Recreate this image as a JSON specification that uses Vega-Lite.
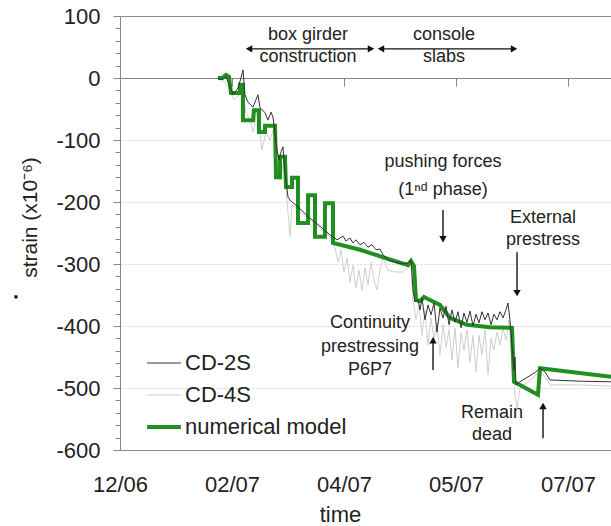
{
  "$schema": "https://vega.github.io/schema/vega-lite/v6.json",
  "width": 491,
  "height": 434,
  "autosize": "none",
  "padding": {"left": 120, "top": 16, "right": 0, "bottom": 76},
  "background": "white",
  "config": {
    "view": {"stroke": null},
    "font": "Liberation Sans",
    "text": {"font": "Liberation Sans"}
  },
  "datasets": {
    "series": [
      {"series": "numerical model", "t": 0.875, "strain": 0},
      {"series": "numerical model", "t": 0.911, "strain": 0},
      {"series": "numerical model", "t": 0.946, "strain": 5},
      {"series": "numerical model", "t": 0.973, "strain": 2},
      {"series": "numerical model", "t": 0.991, "strain": -24},
      {"series": "numerical model", "t": 1.071, "strain": -24},
      {"series": "numerical model", "t": 1.0711, "strain": -11},
      {"series": "numerical model", "t": 1.098, "strain": -11},
      {"series": "numerical model", "t": 1.0981, "strain": -68},
      {"series": "numerical model", "t": 1.188, "strain": -68},
      {"series": "numerical model", "t": 1.196, "strain": -52},
      {"series": "numerical model", "t": 1.241, "strain": -52},
      {"series": "numerical model", "t": 1.2411, "strain": -87},
      {"series": "numerical model", "t": 1.295, "strain": -87},
      {"series": "numerical model", "t": 1.2951, "strain": -77},
      {"series": "numerical model", "t": 1.384, "strain": -77},
      {"series": "numerical model", "t": 1.393, "strain": -160},
      {"series": "numerical model", "t": 1.429, "strain": -160},
      {"series": "numerical model", "t": 1.4291, "strain": -127},
      {"series": "numerical model", "t": 1.473, "strain": -127},
      {"series": "numerical model", "t": 1.482, "strain": -176},
      {"series": "numerical model", "t": 1.536, "strain": -176},
      {"series": "numerical model", "t": 1.5361, "strain": -161},
      {"series": "numerical model", "t": 1.589, "strain": -161},
      {"series": "numerical model", "t": 1.5891, "strain": -234},
      {"series": "numerical model", "t": 1.679, "strain": -234},
      {"series": "numerical model", "t": 1.6791, "strain": -189},
      {"series": "numerical model", "t": 1.741, "strain": -189},
      {"series": "numerical model", "t": 1.7411, "strain": -256},
      {"series": "numerical model", "t": 1.83, "strain": -256},
      {"series": "numerical model", "t": 1.8301, "strain": -202},
      {"series": "numerical model", "t": 1.902, "strain": -202},
      {"series": "numerical model", "t": 1.9021, "strain": -266},
      {"series": "numerical model", "t": 2.143, "strain": -277},
      {"series": "numerical model", "t": 2.366, "strain": -290},
      {"series": "numerical model", "t": 2.571, "strain": -302},
      {"series": "numerical model", "t": 2.598, "strain": -295},
      {"series": "numerical model", "t": 2.625, "strain": -303},
      {"series": "numerical model", "t": 2.643, "strain": -358},
      {"series": "numerical model", "t": 2.679, "strain": -360},
      {"series": "numerical model", "t": 2.714, "strain": -353},
      {"series": "numerical model", "t": 2.768, "strain": -358},
      {"series": "numerical model", "t": 2.857, "strain": -366},
      {"series": "numerical model", "t": 2.946, "strain": -387},
      {"series": "numerical model", "t": 3.098, "strain": -398},
      {"series": "numerical model", "t": 3.304, "strain": -402},
      {"series": "numerical model", "t": 3.5, "strain": -403},
      {"series": "numerical model", "t": 3.518, "strain": -490},
      {"series": "numerical model", "t": 3.571, "strain": -495},
      {"series": "numerical model", "t": 3.732, "strain": -511},
      {"series": "numerical model", "t": 3.75, "strain": -468},
      {"series": "numerical model", "t": 4.384, "strain": -482},

      {"series": "CD-2S", "t": 0.875, "strain": 0},
      {"series": "CD-2S", "t": 0.911, "strain": -3},
      {"series": "CD-2S", "t": 0.946, "strain": 2},
      {"series": "CD-2S", "t": 0.982, "strain": -13},
      {"series": "CD-2S", "t": 1.009, "strain": -27},
      {"series": "CD-2S", "t": 1.054, "strain": -16},
      {"series": "CD-2S", "t": 1.08, "strain": 0},
      {"series": "CD-2S", "t": 1.098, "strain": 13},
      {"series": "CD-2S", "t": 1.116, "strain": -27},
      {"series": "CD-2S", "t": 1.143, "strain": -39},
      {"series": "CD-2S", "t": 1.188, "strain": -47},
      {"series": "CD-2S", "t": 1.214, "strain": -35},
      {"series": "CD-2S", "t": 1.232, "strain": -27},
      {"series": "CD-2S", "t": 1.25, "strain": -48},
      {"series": "CD-2S", "t": 1.295, "strain": -56},
      {"series": "CD-2S", "t": 1.321, "strain": -68},
      {"series": "CD-2S", "t": 1.348, "strain": -55},
      {"series": "CD-2S", "t": 1.366, "strain": -63},
      {"series": "CD-2S", "t": 1.384, "strain": -87},
      {"series": "CD-2S", "t": 1.402, "strain": -116},
      {"series": "CD-2S", "t": 1.42, "strain": -132},
      {"series": "CD-2S", "t": 1.438, "strain": -119},
      {"series": "CD-2S", "t": 1.455, "strain": -111},
      {"series": "CD-2S", "t": 1.473, "strain": -152},
      {"series": "CD-2S", "t": 1.5, "strain": -192},
      {"series": "CD-2S", "t": 1.518, "strain": -197},
      {"series": "CD-2S", "t": 1.607, "strain": -211},
      {"series": "CD-2S", "t": 1.696, "strain": -226},
      {"series": "CD-2S", "t": 1.786, "strain": -239},
      {"series": "CD-2S", "t": 1.875, "strain": -253},
      {"series": "CD-2S", "t": 1.938, "strain": -261},
      {"series": "CD-2S", "t": 1.964, "strain": -258},
      {"series": "CD-2S", "t": 1.991, "strain": -255},
      {"series": "CD-2S", "t": 2.018, "strain": -263},
      {"series": "CD-2S", "t": 2.054, "strain": -258},
      {"series": "CD-2S", "t": 2.08, "strain": -266},
      {"series": "CD-2S", "t": 2.107, "strain": -261},
      {"series": "CD-2S", "t": 2.143, "strain": -269},
      {"series": "CD-2S", "t": 2.179, "strain": -265},
      {"series": "CD-2S", "t": 2.214, "strain": -273},
      {"series": "CD-2S", "t": 2.25, "strain": -269},
      {"series": "CD-2S", "t": 2.286, "strain": -277},
      {"series": "CD-2S", "t": 2.321, "strain": -276},
      {"series": "CD-2S", "t": 2.348, "strain": -285},
      {"series": "CD-2S", "t": 2.393, "strain": -294},
      {"series": "CD-2S", "t": 2.455, "strain": -297},
      {"series": "CD-2S", "t": 2.518, "strain": -300},
      {"series": "CD-2S", "t": 2.571, "strain": -298},
      {"series": "CD-2S", "t": 2.598, "strain": -294},
      {"series": "CD-2S", "t": 2.616, "strain": -342},
      {"series": "CD-2S", "t": 2.634, "strain": -361},
      {"series": "CD-2S", "t": 2.661, "strain": -358},
      {"series": "CD-2S", "t": 2.679, "strain": -374},
      {"series": "CD-2S", "t": 2.696, "strain": -355},
      {"series": "CD-2S", "t": 2.723, "strain": -390},
      {"series": "CD-2S", "t": 2.75, "strain": -366},
      {"series": "CD-2S", "t": 2.777, "strain": -382},
      {"series": "CD-2S", "t": 2.804, "strain": -363},
      {"series": "CD-2S", "t": 2.83, "strain": -410},
      {"series": "CD-2S", "t": 2.857, "strain": -371},
      {"series": "CD-2S", "t": 2.884, "strain": -387},
      {"series": "CD-2S", "t": 2.911, "strain": -368},
      {"series": "CD-2S", "t": 2.938, "strain": -398},
      {"series": "CD-2S", "t": 2.964, "strain": -374},
      {"series": "CD-2S", "t": 2.991, "strain": -394},
      {"series": "CD-2S", "t": 3.018, "strain": -377},
      {"series": "CD-2S", "t": 3.045, "strain": -403},
      {"series": "CD-2S", "t": 3.071, "strain": -379},
      {"series": "CD-2S", "t": 3.098, "strain": -394},
      {"series": "CD-2S", "t": 3.125, "strain": -376},
      {"series": "CD-2S", "t": 3.152, "strain": -400},
      {"series": "CD-2S", "t": 3.179, "strain": -381},
      {"series": "CD-2S", "t": 3.205, "strain": -395},
      {"series": "CD-2S", "t": 3.232, "strain": -377},
      {"series": "CD-2S", "t": 3.259, "strain": -390},
      {"series": "CD-2S", "t": 3.286, "strain": -379},
      {"series": "CD-2S", "t": 3.313, "strain": -398},
      {"series": "CD-2S", "t": 3.339, "strain": -381},
      {"series": "CD-2S", "t": 3.366, "strain": -390},
      {"series": "CD-2S", "t": 3.393, "strain": -377},
      {"series": "CD-2S", "t": 3.42, "strain": -387},
      {"series": "CD-2S", "t": 3.446, "strain": -374},
      {"series": "CD-2S", "t": 3.464, "strain": -363},
      {"series": "CD-2S", "t": 3.482, "strain": -390},
      {"series": "CD-2S", "t": 3.5, "strain": -431},
      {"series": "CD-2S", "t": 3.518, "strain": -471},
      {"series": "CD-2S", "t": 3.527, "strain": -450},
      {"series": "CD-2S", "t": 3.536, "strain": -495},
      {"series": "CD-2S", "t": 3.571, "strain": -490},
      {"series": "CD-2S", "t": 3.643, "strain": -482},
      {"series": "CD-2S", "t": 3.714, "strain": -474},
      {"series": "CD-2S", "t": 3.75, "strain": -468},
      {"series": "CD-2S", "t": 3.795, "strain": -474},
      {"series": "CD-2S", "t": 3.839, "strain": -487},
      {"series": "CD-2S", "t": 4.107, "strain": -489},
      {"series": "CD-2S", "t": 4.384, "strain": -490},

      {"series": "CD-4S", "t": 0.875, "strain": 0},
      {"series": "CD-4S", "t": 0.929, "strain": -6},
      {"series": "CD-4S", "t": 0.973, "strain": -16},
      {"series": "CD-4S", "t": 1.018, "strain": -35},
      {"series": "CD-4S", "t": 1.054, "strain": -29},
      {"series": "CD-4S", "t": 1.089, "strain": -16},
      {"series": "CD-4S", "t": 1.125, "strain": -55},
      {"series": "CD-4S", "t": 1.161, "strain": -68},
      {"series": "CD-4S", "t": 1.188, "strain": -87},
      {"series": "CD-4S", "t": 1.223, "strain": -55},
      {"series": "CD-4S", "t": 1.268, "strain": -116},
      {"series": "CD-4S", "t": 1.304, "strain": -87},
      {"series": "CD-4S", "t": 1.339, "strain": -100},
      {"series": "CD-4S", "t": 1.375, "strain": -81},
      {"series": "CD-4S", "t": 1.402, "strain": -140},
      {"series": "CD-4S", "t": 1.429, "strain": -165},
      {"series": "CD-4S", "t": 1.464, "strain": -132},
      {"series": "CD-4S", "t": 1.491, "strain": -197},
      {"series": "CD-4S", "t": 1.518, "strain": -256},
      {"series": "CD-4S", "t": 1.536, "strain": -205},
      {"series": "CD-4S", "t": 1.607, "strain": -216},
      {"series": "CD-4S", "t": 1.696, "strain": -229},
      {"series": "CD-4S", "t": 1.786, "strain": -242},
      {"series": "CD-4S", "t": 1.875, "strain": -256},
      {"series": "CD-4S", "t": 1.92, "strain": -274},
      {"series": "CD-4S", "t": 1.946, "strain": -297},
      {"series": "CD-4S", "t": 1.973, "strain": -277},
      {"series": "CD-4S", "t": 2.0, "strain": -313},
      {"series": "CD-4S", "t": 2.027, "strain": -290},
      {"series": "CD-4S", "t": 2.054, "strain": -329},
      {"series": "CD-4S", "t": 2.08, "strain": -302},
      {"series": "CD-4S", "t": 2.107, "strain": -339},
      {"series": "CD-4S", "t": 2.134, "strain": -310},
      {"series": "CD-4S", "t": 2.161, "strain": -342},
      {"series": "CD-4S", "t": 2.188, "strain": -306},
      {"series": "CD-4S", "t": 2.214, "strain": -334},
      {"series": "CD-4S", "t": 2.241, "strain": -297},
      {"series": "CD-4S", "t": 2.268, "strain": -326},
      {"series": "CD-4S", "t": 2.295, "strain": -342},
      {"series": "CD-4S", "t": 2.321, "strain": -310},
      {"series": "CD-4S", "t": 2.348, "strain": -290},
      {"series": "CD-4S", "t": 2.393, "strain": -310},
      {"series": "CD-4S", "t": 2.455, "strain": -313},
      {"series": "CD-4S", "t": 2.518, "strain": -313},
      {"series": "CD-4S", "t": 2.571, "strain": -306},
      {"series": "CD-4S", "t": 2.598, "strain": -302},
      {"series": "CD-4S", "t": 2.616, "strain": -358},
      {"series": "CD-4S", "t": 2.643, "strain": -390},
      {"series": "CD-4S", "t": 2.67, "strain": -366},
      {"series": "CD-4S", "t": 2.696, "strain": -415},
      {"series": "CD-4S", "t": 2.723, "strain": -374},
      {"series": "CD-4S", "t": 2.75, "strain": -431},
      {"series": "CD-4S", "t": 2.777, "strain": -387},
      {"series": "CD-4S", "t": 2.804, "strain": -423},
      {"series": "CD-4S", "t": 2.83, "strain": -394},
      {"series": "CD-4S", "t": 2.857, "strain": -447},
      {"series": "CD-4S", "t": 2.884, "strain": -398},
      {"series": "CD-4S", "t": 2.911, "strain": -435},
      {"series": "CD-4S", "t": 2.938, "strain": -406},
      {"series": "CD-4S", "t": 2.964, "strain": -455},
      {"series": "CD-4S", "t": 2.991, "strain": -403},
      {"series": "CD-4S", "t": 3.018, "strain": -468},
      {"series": "CD-4S", "t": 3.045, "strain": -411},
      {"series": "CD-4S", "t": 3.071, "strain": -439},
      {"series": "CD-4S", "t": 3.098, "strain": -406},
      {"series": "CD-4S", "t": 3.125, "strain": -458},
      {"series": "CD-4S", "t": 3.152, "strain": -415},
      {"series": "CD-4S", "t": 3.179, "strain": -474},
      {"series": "CD-4S", "t": 3.205, "strain": -415},
      {"series": "CD-4S", "t": 3.232, "strain": -447},
      {"series": "CD-4S", "t": 3.259, "strain": -406},
      {"series": "CD-4S", "t": 3.286, "strain": -479},
      {"series": "CD-4S", "t": 3.313, "strain": -419},
      {"series": "CD-4S", "t": 3.339, "strain": -439},
      {"series": "CD-4S", "t": 3.366, "strain": -410},
      {"series": "CD-4S", "t": 3.393, "strain": -431},
      {"series": "CD-4S", "t": 3.42, "strain": -403},
      {"series": "CD-4S", "t": 3.446, "strain": -423},
      {"series": "CD-4S", "t": 3.473, "strain": -390},
      {"series": "CD-4S", "t": 3.5, "strain": -463},
      {"series": "CD-4S", "t": 3.527, "strain": -511},
      {"series": "CD-4S", "t": 3.545, "strain": -532},
      {"series": "CD-4S", "t": 3.571, "strain": -500},
      {"series": "CD-4S", "t": 3.643, "strain": -490},
      {"series": "CD-4S", "t": 3.714, "strain": -479},
      {"series": "CD-4S", "t": 3.75, "strain": -474},
      {"series": "CD-4S", "t": 3.795, "strain": -482},
      {"series": "CD-4S", "t": 3.839, "strain": -495},
      {"series": "CD-4S", "t": 4.107, "strain": -495},
      {"series": "CD-4S", "t": 4.384, "strain": -497}
    ],
    "notes": [
      {"t": 1.679, "strain": 69, "text": "box girder"},
      {"t": 1.679, "strain": 34, "text": "construction"},
      {"t": 2.893, "strain": 69, "text": "console"},
      {"t": 2.893, "strain": 34, "text": "slabs"},
      {"t": 2.884, "strain": -135, "text": "pushing forces"},
      {"t": 2.884, "strain": -181, "text": "(1ⁿᵈ phase)"},
      {"t": 3.777, "strain": -226, "text": "External"},
      {"t": 3.777, "strain": -261, "text": "prestress"},
      {"t": 2.232, "strain": -395, "text": "Continuity"},
      {"t": 2.232, "strain": -434, "text": "prestressing"},
      {"t": 2.232, "strain": -471, "text": "P6P7"},
      {"t": 3.321, "strain": -540, "text": "Remain"},
      {"t": 3.321, "strain": -576, "text": "dead"}
    ],
    "arrows": [
      {"t": 1.152, "strain": 47, "t2": 2.241, "strain2": 47},
      {"t": 2.33, "strain": 47, "t2": 3.518, "strain2": 47},
      {"t": 2.884, "strain": -213, "t2": 2.884, "strain2": -258},
      {"t": 3.545, "strain": -281, "t2": 3.545, "strain2": -345},
      {"t": 2.795, "strain": -471, "t2": 2.795, "strain2": -425},
      {"t": 3.777, "strain": -581, "t2": 3.777, "strain2": -531}
    ],
    "heads": [
      {"t": 1.152, "strain": 47, "dir": "left"},
      {"t": 2.241, "strain": 47, "dir": "right"},
      {"t": 2.33, "strain": 47, "dir": "left"},
      {"t": 3.518, "strain": 47, "dir": "right"},
      {"t": 2.884, "strain": -260, "dir": "down"},
      {"t": 3.545, "strain": -347, "dir": "down"},
      {"t": 2.795, "strain": -423, "dir": "up"},
      {"t": 3.777, "strain": -529, "dir": "up"}
    ],
    "dot": [
      {"t": -0.929, "strain": -353}
    ],
    "xticks": [
      {"t": 0}, {"t": 1}, {"t": 2}, {"t": 3}, {"t": 4}
    ]
  },
  "resolve": {"axis": {"x": "independent"}},
  "layer": [
    {
      "encoding": {
        "x": {
          "field": "t", "type": "quantitative",
          "scale": {"domain": [0, 4.384], "nice": false, "zero": false},
          "axis": {
            "orient": "bottom",
            "values": [0, 1, 2, 3, 4],
            "labelExpr": "['12/06','02/07','04/07','05/07','07/07'][datum.value]",
            "domain": false, "ticks": false, "grid": false,
            "labelFont": "Liberation Sans", "labelFontSize": 22, "labelColor": "#222",
            "labelPadding": 24, "labelFlush": false, "labelOverlap": false,
            "title": "time", "titleFont": "Liberation Sans", "titleFontSize": 22,
            "titleFontWeight": "normal", "titleColor": "#222",
            "titleX": 220, "titleY": 71, "titleBaseline": "alphabetic", "titleAnchor": null, "titleAlign": "center"
          }
        },
        "y": {
          "field": "strain", "type": "quantitative",
          "scale": {"domain": [-600, 100], "nice": false, "zero": false},
          "axis": {
            "values": [-600, -580, -560, -540, -520, -500, -480, -460, -440, -420, -400, -380, -360, -340, -320, -300, -280, -260, -240, -220, -200, -180, -160, -140, -120, -100, -80, -60, -40, -20, 0, 20, 40, 60, 80, 100],
            "domain": true, "domainColor": "#888", "domainWidth": 1,
            "ticks": true, "tickColor": "#888",
            "tickSize": {"condition": {"test": "datum.value % 100 === 0", "value": 7}, "value": 5},
            "labelExpr": "datum.value % 100 === 0 ? '' + datum.value : ''",
            "labelFontSize": {"condition": {"test": "datum.value % 100 === 0", "value": 22}, "value": 1},
            "labelFont": "Liberation Sans", "labelColor": "#222", "labelPadding": 13,
            "labelOverlap": false, "labelFlush": false, "labelBound": false,
            "grid": true,
            "gridOpacity": {"condition": {"test": "datum.value % 100 === 0", "value": 1}, "value": 0},
            "gridDash": {"condition": {"test": "datum.value === 100 || datum.value === 0 || datum.value === -600", "value": []}, "value": [2, 2]},
            "gridColor": {"condition": {"test": "datum.value === 100 || datum.value === 0 || datum.value === -600", "value": "#8a8a8a"}, "value": "#d4d4d4"},
            "title": "strain (x10⁻⁶)", "titleFont": "Liberation Sans", "titleFontSize": 21,
            "titleFontWeight": "normal", "titleColor": "#222",
            "titleX": -90, "titleY": 201, "titleAngle": -90, "titleAlign": "center", "titleBaseline": "middle", "titleAnchor": null
          }
        }
      },
      "layer": [
        {
          "data": {"name": "series"},
          "transform": [{"filter": "datum.series === 'CD-4S'"}],
          "mark": {"type": "line", "strokeWidth": 1, "clip": true},
          "encoding": {
            "color": {
              "field": "series", "type": "nominal",
              "scale": {"domain": ["CD-2S", "CD-4S", "numerical model"], "range": ["#333333", "#cfcfcf", "#1f8f1f"]},
              "legend": {
                "title": null, "orient": "none", "legendX": 33, "legendY": 336,
                "padding": 0, "symbolType": "stroke", "symbolSize": 1150, "symbolStrokeWidth": 1.2,
                "labelFont": "Liberation Sans", "labelFontSize": 22, "labelColor": "#222", "labelOffset": 10,
                "rowPadding": 10, "labelLimit": 400,
                "encode": {"symbols": {"update": {"strokeWidth": {"signal": "datum.label === 'numerical model' ? 4 : 1.2"}}}}
              }
            }
          }
        },
        {
          "data": {"name": "series"},
          "transform": [{"filter": "datum.series === 'numerical model'"}],
          "mark": {"type": "line", "strokeWidth": 4, "clip": true, "strokeJoin": "miter"},
          "encoding": {
            "color": {"field": "series", "type": "nominal"}
          }
        },
        {
          "data": {"name": "series"},
          "transform": [{"filter": "datum.series === 'CD-2S'"}],
          "mark": {"type": "line", "strokeWidth": 1, "clip": true},
          "encoding": {
            "color": {"field": "series", "type": "nominal"}
          }
        },
        {
          "data": {"name": "arrows"},
          "mark": {"type": "rule", "color": "#111", "strokeWidth": 1.4},
          "encoding": {
            "x2": {"field": "t2"},
            "y2": {"field": "strain2"}
          }
        },
        {
          "data": {"name": "heads"},
          "mark": {"type": "point", "filled": true, "color": "#111", "opacity": 1, "size": 55},
          "encoding": {
            "shape": {
              "field": "dir", "type": "nominal",
              "scale": {"domain": ["left", "right", "up", "down"], "range": ["triangle-left", "triangle-right", "triangle-up", "triangle-down"]},
              "legend": null
            }
          }
        },
        {
          "data": {"name": "dot"},
          "mark": {"type": "square", "filled": true, "color": "#111", "opacity": 1, "size": 10, "clip": false}
        },
        {
          "data": {"name": "notes"},
          "mark": {"type": "text", "font": "Liberation Sans", "fontSize": 18, "color": "#222", "align": "center", "baseline": "middle"},
          "encoding": {
            "text": {"field": "text"}
          }
        }
      ]
    },
    {
      "data": {"name": "xticks"},
      "mark": {"type": "point", "opacity": 0},
      "encoding": {
        "x": {
          "field": "t", "type": "quantitative",
          "axis": {
            "orient": "bottom", "offset": -372,
            "values": [0, 1, 2, 3, 4],
            "labels": false, "ticks": true, "tickSize": 8, "tickColor": "#888",
            "domain": true, "domainColor": "#888", "grid": false, "title": null
          }
        }
      }
    }
  ]
}
